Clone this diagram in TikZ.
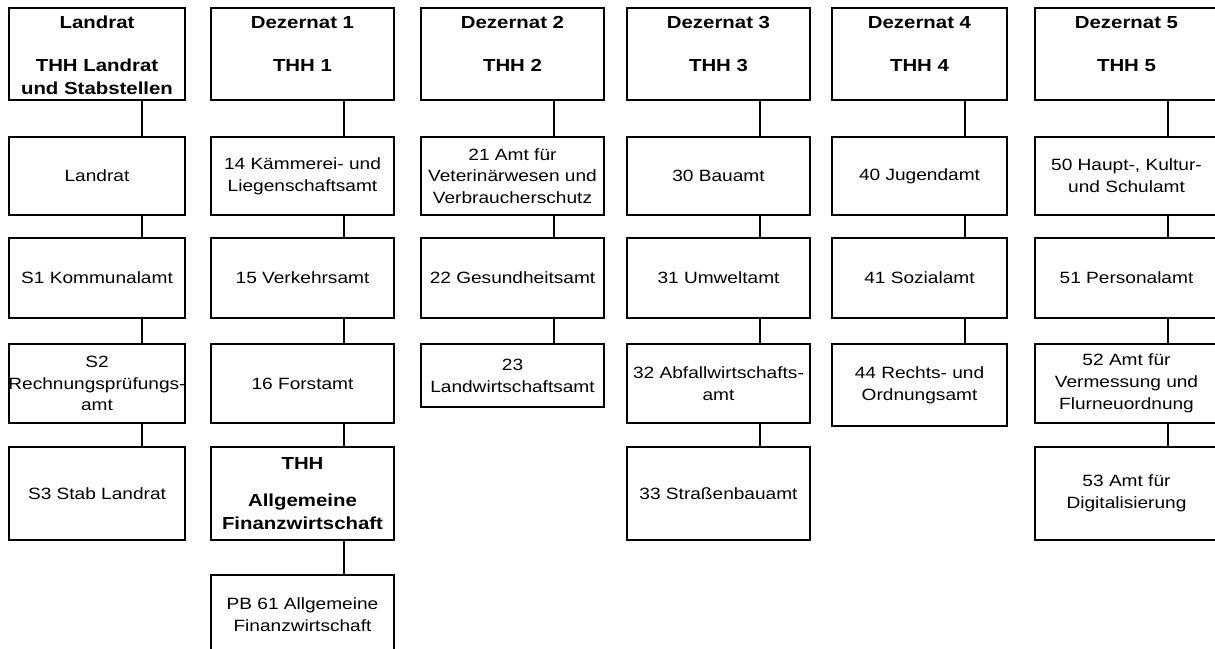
\documentclass[tikz,border=0pt]{standalone}
\usepackage{fontspec}
\setmainfont{Liberation Sans}[FakeStretch=1.17]
% header boxes: text sits at the top
\newcommand{\kopftext}[2]{\parbox[c][2.3cm][t]{#1}{\centering\fontsize{12.4}{16}\selectfont\bfseries\rule{0pt}{14.9pt}#2}}
\begin{document}
\begin{tikzpicture}[x=0.025cm, y=-0.025cm,
    kopf/.style={draw, line width=1.3pt, inner sep=0pt},
    amt/.style={draw, line width=1.3pt, align=center, inner sep=0pt,
      minimum width=4.575cm, minimum height=1.95cm,
      font=\fontsize{11.6}{15.5}\selectfont},
    linie/.style={line width=1.2pt}]
  \useasboundingbox (0,0) rectangle (1215,649);
  \clip (0,0) rectangle (1215,649);
  \def\stich{3.35cm}
  % headers
  \node[kopf] (lr)  at (97,54)     {\kopftext{4.4cm}{Landrat\\[14.3pt]THH Landrat\\und Stabstellen}};
  \node[kopf] (dz1) at (302.5,54)  {\kopftext{4.575cm}{Dezernat 1\\[14.3pt]THH 1}};
  \node[kopf] (dz2) at (512.5,54)  {\kopftext{4.575cm}{Dezernat 2\\[14.3pt]THH 2}};
  \node[kopf] (dz3) at (718.5,54)  {\kopftext{4.575cm}{Dezernat 3\\[14.3pt]THH 3}};
  \node[kopf] (dz4) at (919.5,54)  {\kopftext{4.375cm}{Dezernat 4\\[14.3pt]THH 4}};
  \node[kopf] (dz5) at (1126.5,54) {\kopftext{4.575cm}{Dezernat 5\\[14.3pt]THH 5}};
  % Landrat
  \node[amt, minimum width=4.4cm] (la) at (97,176) {Landrat};
  \node[amt, minimum width=4.4cm, minimum height=2cm] (s1) at (97,278) {S1 Kommunalamt};
  \node[amt, minimum width=4.4cm, minimum height=1.975cm] (s2) at (97,383.5) {S2\\\makebox[4.2cm]{Rechnungsprüfungs-}\\amt};
  \node[amt, minimum width=4.4cm, minimum height=2.325cm] (s3) at (97,493.5) {S3 Stab Landrat};
  % Dezernat 1
  \node[amt] (a14) at (302.5,176) {14 Kämmerei- und\\Liegenschaftsamt};
  \node[amt, minimum height=2cm] (a15) at (302.5,278) {15 Verkehrsamt};
  \node[amt, minimum height=1.975cm] (a16) at (302.5,383.5) {16 Forstamt};
  \node[amt, minimum height=2.325cm, font=\fontsize{12.4}{16}\selectfont\bfseries] (thh) at (302.5,493.5) {THH\\[10.5pt]Allgemeine\\Finanzwirtschaft};
  \node[amt, minimum height=2cm] (pb61) at (302.5,615) {PB 61 Allgemeine\\Finanzwirtschaft};
  % Dezernat 2
  \node[amt] (a21) at (512.5,176) {21 Amt für\\Veterinärwesen und\\Verbraucherschutz};
  \node[amt, minimum height=2cm] (a22) at (512.5,278) {22 Gesundheitsamt};
  \node[amt, minimum height=1.575cm] (a23) at (512.5,375.5) {23\\Landwirtschaftsamt};
  % Dezernat 3
  \node[amt] (a30) at (718.5,176) {30 Bauamt};
  \node[amt, minimum height=2cm] (a31) at (718.5,278) {31 Umweltamt};
  \node[amt, minimum height=1.975cm] (a32) at (718.5,383.5) {32 Abfallwirtschafts-\\amt};
  \node[amt, minimum height=2.325cm] (a33) at (718.5,493.5) {33 Straßenbauamt};
  % Dezernat 4
  \node[amt, minimum width=4.375cm] (a40) at (919.5,176) {40 Jugendamt};
  \node[amt, minimum width=4.375cm, minimum height=2cm] (a41) at (919.5,278) {41 Sozialamt};
  \node[amt, minimum width=4.375cm, minimum height=2.05cm] (a44) at (919.5,385) {44 Rechts- und\\Ordnungsamt};
  % Dezernat 5
  \node[amt] (a50) at (1126.5,176) {50 Haupt-, Kultur-\\und Schulamt};
  \node[amt, minimum height=2cm] (a51) at (1126.5,278) {51 Personalamt};
  \node[amt, minimum height=1.975cm] (a52) at (1126.5,383.5) {52 Amt für\\Vermessung und\\Flurneuordnung};
  \node[amt, minimum height=2.325cm] (a53) at (1126.5,493.5) {53 Amt für\\Digitalisierung};
  % connectors
  \foreach \oben/\unten in {lr/la, la/s1, s1/s2, s2/s3,
      dz1/a14, a14/a15, a15/a16, a16/thh, thh/pb61,
      dz2/a21, a21/a22, a22/a23,
      dz3/a30, a30/a31, a31/a32, a32/a33,
      dz4/a40, a40/a41, a41/a44,
      dz5/a50, a50/a51, a51/a52, a52/a53}
    \draw[linie] ([xshift=\stich]\oben.south west) -- ([xshift=\stich]\unten.north west);
\end{tikzpicture}
\end{document}
